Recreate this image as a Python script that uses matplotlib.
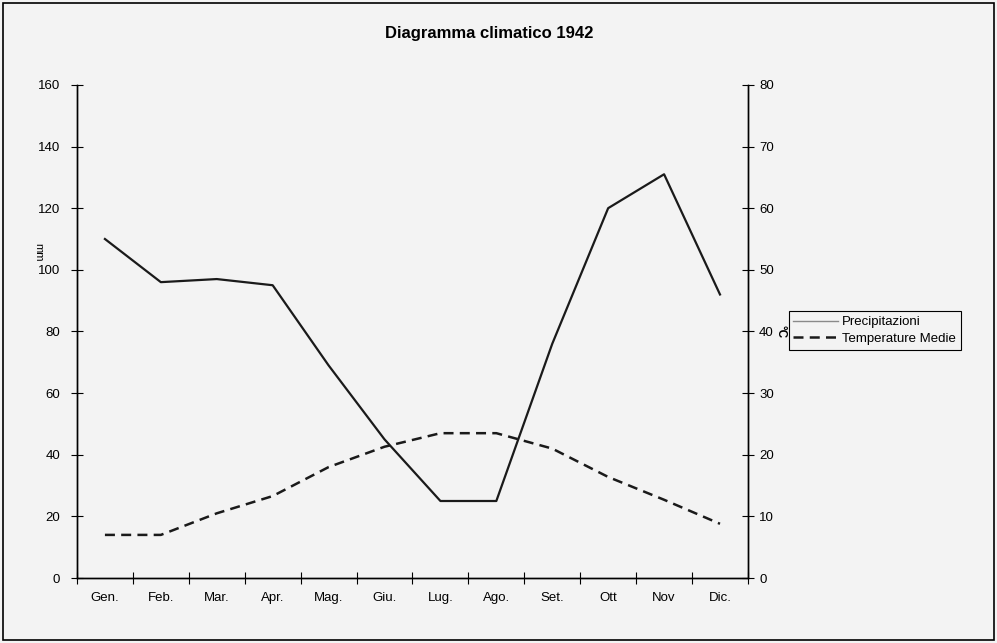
import matplotlib.pyplot as plt
from matplotlib.patches import Rectangle

plt.rcParams['font.family'] = ['Liberation Sans', 'DejaVu Sans']

mesi = ["Gen.", "Feb.", "Mar.", "Apr.", "Mag.", "Giu.", "Lug.", "Ago.", "Set.", "Ott", "Nov", "Dic."]
precipitazioni = [110, 96, 97, 95, 69, 45, 25, 25, 76, 120, 131, 92]
temperature = [7, 7, 10.5, 13.3, 18, 21.3, 23.5, 23.5, 21, 16.4, 12.7, 8.8]

bg = "#f3f3f3"
fig = plt.figure(figsize=(9.97, 6.43), dpi=100, facecolor=bg)
fig.patches.append(Rectangle((0.003, 0.004), 0.994, 0.991, transform=fig.transFigure,
                             fill=False, edgecolor="black", linewidth=1.2))

ax = fig.add_axes([0.0772, 0.101, 0.673, 0.767])
ax.set_facecolor(bg)
ax2 = ax.twinx()

x = range(len(mesi))
ax.plot(x, precipitazioni, color="#1a1a1a", linewidth=1.6, label="Precipitazioni")
ax2.plot(x, temperature, color="#1a1a1a", linewidth=1.8, linestyle=(0, (4, 2.5)),
         label="Temperature Medie")

ax.set_xlim(-0.5, 11.5)
ax.set_ylim(0, 160)
ax2.set_ylim(0, 80)
ax.set_yticks(range(0, 161, 20))
ax2.set_yticks(range(0, 81, 10))
ax.set_xticks(x)
ax.set_xticklabels(mesi)
ax.set_xticks([i + 0.5 for i in range(-1, 12)], minor=True)
ax.tick_params(axis="x", which="major", length=0, pad=10, labelsize=9.5)
ax.tick_params(axis="x", which="minor", direction="inout", length=8, width=0.8)
ax.tick_params(axis="y", direction="inout", length=8, width=0.8, labelsize=9.5, pad=8)
ax2.tick_params(axis="y", direction="inout", length=8, width=0.8, labelsize=9.5, pad=4)

for a in (ax, ax2):
    a.spines["top"].set_visible(False)
    for s in ("left", "right", "bottom"):
        a.spines[s].set_linewidth(1.0)

fig.text(0.491, 0.948, "Diagramma climatico 1942", ha="center", va="center",
         fontsize=12, fontweight="bold")
fig.text(0.038, 0.608, "mm", rotation=270, ha="center", va="center", fontsize=8)
fig.text(0.7825, 0.485, "°C", rotation=270, ha="center", va="center", fontsize=8.5,
         fontweight="bold")

h1, l1 = ax.get_legend_handles_labels()
h2, l2 = ax2.get_legend_handles_labels()
h1[0] = plt.Line2D([], [], color="#8a8a8a", linewidth=1.0)
leg = fig.legend(h1 + h2, l1 + l2, loc="center left", bbox_to_anchor=(0.791, 0.486),
                 fontsize=9.5, frameon=True, fancybox=False, edgecolor="black",
                 facecolor=bg, framealpha=1, handlelength=3.4, borderpad=0.35,
                 labelspacing=0.35, handletextpad=0.3, borderaxespad=0)
leg.get_frame().set_linewidth(0.8)

fig.savefig("out.png", dpi=100, facecolor=bg)
